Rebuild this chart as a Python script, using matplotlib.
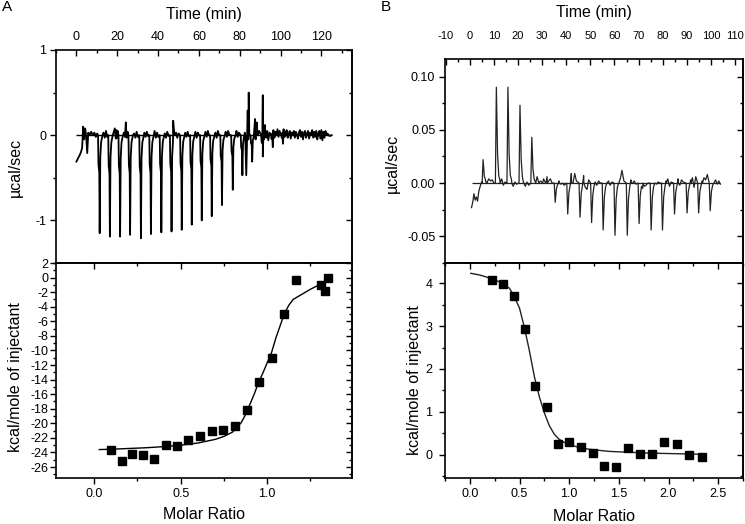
import numpy as np
import matplotlib.pyplot as plt
from matplotlib.ticker import MultipleLocator, FormatStrFormatter

plt.rcParams['font.family'] = ['Liberation Sans', 'DejaVu Sans']
plt.rcParams['axes.unicode_minus'] = False

# ---- panel A, raw heat flow (ucal/sec vs min) ----
inj_t_A = [10.6, 15.6, 20.6, 25.5, 30.8, 35.7, 40.8, 45.8, 50.8, 55.7, 60.6, 65.5,
           70.5, 75.8, 80.5, 85.3, 90.5, 95.4, 100.4]
inj_peak_A = [-1.15, -1.19, -1.19, -1.17, -1.21, -1.16, -1.14, -1.13, -1.11, -1.05,
              -1.00, -0.95, -0.82, -0.64, -0.47, -0.31, -0.25, -0.14, -0.10]
# drift at start, baseline noise and the odd spikes
extra_t_A = [0.0, 0.8, 1.5, 2.2, 2.8, 3.3, 3.8, 4.3, 4.8, 5.3, 5.8, 6.5, 7.2, 8.0, 8.8, 9.5, 10.2,
             13.3, 13.9, 14.5, 15.1, 18.3, 18.8, 19.3, 19.6, 19.9, 20.2, 23.3, 23.8, 24.2,
             24.6, 25.1, 28.3, 28.9, 29.5, 30.1, 33.3, 33.9, 34.5, 35.1, 38.3, 38.9, 39.5,
             40.1, 43.3, 43.9, 44.5, 45.2, 47.4, 48.8, 49.4, 50.0, 53.3, 53.9, 54.5, 55.0,
             58.3, 58.9, 59.5, 60.0, 63.2, 63.8, 64.4, 64.9, 68.1, 68.7, 69.3, 69.9, 73.1,
             73.7, 74.3, 75.0, 78.4, 79.0, 79.6, 82.5, 83.2, 83.6, 83.9, 84.2, 84.4, 84.7,
             87.0, 87.5, 87.8, 88.3, 88.8, 89.5, 91.3, 91.6, 92.3, 93.0, 93.5, 94.0, 94.6,
             96.0, 96.5, 97.0, 97.5, 98.0, 98.5, 99.0, 99.5,
             101.0, 101.5, 102.0, 102.5, 103.0, 103.5, 104.0, 104.5, 105.0, 105.5, 106.0,
             106.5, 107.0, 107.5, 108.0, 108.5, 109.0, 109.5, 110.0, 110.5, 111.0, 111.5,
             112.0, 112.5, 113.0, 113.5, 114.0, 114.5, 115.0, 115.5, 116.0, 116.5, 117.0,
             117.5, 118.0, 118.5, 119.0, 119.5, 120.0, 120.5, 121.0, 121.5, 122.0, 122.5,
             123.0, 124.0, 125.0]
extra_y_A = [-0.31, -0.27, -0.24, -0.20, -0.15, 0.10, -0.05, 0.08, -0.02, -0.21, 0.03, 0.00,
             0.04, 0.00, 0.03, -0.02, 0.02,
             0.03, -0.03, 0.05, -0.02, 0.04, 0.08, -0.04, 0.06, -0.03, 0.05, 0.03, -0.02,
             0.15, -0.03, 0.04, 0.02, -0.03, 0.04, -0.02, 0.03, -0.02, 0.04, -0.01, 0.05,
             -0.03, 0.03, -0.02, 0.02, -0.03, 0.04, -0.01, 0.17, 0.03, -0.03, 0.02,
             0.03, -0.02, 0.04, -0.01, 0.04, -0.03, 0.03, 0.00, 0.04, -0.02, 0.05, 0.00,
             0.03, -0.03, 0.05, 0.00, 0.04, -0.02, 0.05, 0.00, 0.05, -0.02, 0.03, 0.03,
             -0.47, 0.00, 0.29, -0.05, 0.50, 0.00,
             0.02, 0.19, -0.05, 0.15, 0.00, 0.05, 0.47, 0.00, 0.12, -0.03, 0.05, -0.06, 0.03,
             0.02, 0.06, -0.03, 0.04, 0.00, 0.07, -0.02, 0.05,
             0.03, 0.07, -0.02, 0.04, 0.06, -0.03, 0.02, 0.05, -0.04, 0.03, 0.00,
             0.05, -0.03, 0.04, 0.01, -0.04, 0.03, 0.06, -0.02, 0.04, -0.05, 0.03,
             0.05, -0.03, 0.02, 0.05, -0.04, 0.03, 0.00, 0.06, -0.03, 0.04, -0.02,
             0.05, -0.05, 0.02, 0.05, -0.04, 0.06, -0.06, 0.04, -0.03, 0.05, 0.00,
             0.02, -0.01, 0.00]

# ---- panel B, raw heat flow ----
inj_t_B = [5.5, 11.0, 15.8, 20.8, 25.7, 30.6, 35.4, 40.6, 45.7, 50.5, 55.3, 60.2, 65.3,
           70.2, 75.2, 79.9, 84.9, 90.1, 94.9, 99.7]
inj_peak_B = [0.022, 0.090, 0.090, 0.073, 0.043, 0.004, -0.018, -0.029, -0.032, -0.037,
              -0.044, -0.049, -0.049, -0.038, -0.044, -0.044, -0.029, -0.028, -0.028, -0.026]
extra_t_B = [0.7, 1.2, 1.7, 2.2, 2.7, 3.2, 3.7, 4.3, 4.9, 6.5, 7.2, 7.9, 8.6, 9.3, 10.0,
             12.5, 13.2, 13.9, 14.6, 17.3, 18.0, 18.7, 19.4, 22.3, 23.0, 23.7, 24.4,
             27.2, 27.9, 28.6, 29.3, 32.0, 32.7, 33.4, 34.1, 37.0, 37.7, 38.4, 39.1,
             42.1, 42.8, 43.5, 44.2, 47.2, 47.9, 48.6, 49.3, 52.0, 52.7, 53.4, 54.1,
             56.8, 57.5, 58.2, 58.9, 61.7, 62.4, 63.1, 63.9, 66.8, 67.5, 68.2, 68.9,
             71.7, 72.4, 73.1, 73.8, 76.7, 77.4, 78.1, 78.8, 81.4, 82.1, 82.8, 83.5,
             86.4, 87.1, 87.8, 88.5, 91.6, 92.3, 93.0, 93.7, 96.4, 97.1, 97.8, 98.5,
             101.2, 101.9, 102.6, 103.3, 103.9]
extra_y_B = [-0.023, -0.018, -0.010, -0.016, -0.013, -0.017, -0.008, -0.003, 0.001,
             0.003, 0.001, 0.004, 0.002, 0.003, 0.000,
             0.002, 0.004, -0.002, 0.001, 0.003, -0.003, 0.001, -0.001, 0.000, -0.003, 0.001, -0.002,
             0.001, 0.006, 0.000, 0.002, 0.006, 0.002, 0.004, 0.000, 0.002, -0.001, 0.000, -0.002,
             0.009, 0.000, 0.009, 0.002, 0.007, -0.004, -0.006, 0.003, 0.001, -0.002, 0.002, 0.000,
             0.000, 0.002, -0.002, 0.001, 0.000, 0.004, 0.012, 0.002, 0.003, 0.000, 0.002, -0.001,
             -0.005, -0.003, -0.002, 0.000, 0.000, -0.001, 0.001, 0.000, 0.002, 0.004, -0.003, 0.001,
             0.004, -0.002, 0.003, 0.001, 0.003, 0.005, -0.004, 0.006, 0.002, 0.005, 0.003, 0.008,
             0.000, 0.003, -0.001, 0.002, -0.001]

# ---- integrated heats ----
ratio_A = [0.096, 0.160, 0.221, 0.285, 0.346, 0.413, 0.477, 0.542, 0.610, 0.679, 0.746,
           0.815, 0.883, 0.952, 1.025, 1.096, 1.167, 1.312, 1.333, 1.352]
heat_A = [-23.6, -25.1, -24.2, -24.3, -24.9, -23.0, -23.1, -22.3, -21.8, -21.0, -20.9,
          -20.3, -18.2, -14.3, -11.1, -5.0, -0.3, -0.96, -1.8, -0.1]
fit_ratio_A = [0.03, 0.1, 0.2, 0.3, 0.4, 0.5, 0.6, 0.7, 0.75, 0.8, 0.85, 0.875, 0.9, 0.925,
               0.95, 0.975, 1.0, 1.025, 1.05, 1.075, 1.1, 1.125, 1.15, 1.2, 1.25, 1.3, 1.33]
fit_heat_A = [-23.6, -23.55, -23.45, -23.35, -23.2, -23.0, -22.7, -22.2, -21.8, -21.2, -19.9,
              -18.8, -17.4, -16.0, -14.4, -13.1, -11.7, -10.3, -8.3, -6.6, -4.9, -3.8, -3.0,
              -2.3, -1.6, -1.0, -0.75]

ratio_B = [0.222, 0.330, 0.441, 0.552, 0.660, 0.774, 0.885, 1.003, 1.120, 1.238, 1.349,
           1.474, 1.590, 1.709, 1.837, 1.958, 2.086, 2.207, 2.335]
heat_B = [4.08, 3.98, 3.69, 2.94, 1.60, 1.11, 0.25, 0.30, 0.19, 0.05, -0.26, -0.28, 0.15,
          0.01, 0.02, 0.29, 0.26, 0.00, -0.06]
fit_ratio_B = [0.01, 0.1, 0.2, 0.3, 0.4, 0.45, 0.5, 0.55, 0.6, 0.65, 0.7, 0.75, 0.8, 0.85,
               0.9, 0.95, 1.0, 1.1, 1.2, 1.4, 1.6, 1.8, 2.0, 2.2, 2.35]
fit_heat_B = [4.23, 4.19, 4.12, 4.03, 3.88, 3.67, 3.42, 2.96, 2.42, 1.82, 1.35, 0.98, 0.68,
              0.48, 0.36, 0.29, 0.24, 0.17, 0.13, 0.08, 0.06, 0.04, 0.03, 0.02, 0.01]

# shape of one injection peak (time offset, fraction of peak)
spike_dt_A = [0, 0.2, 0.6, 0.8, 1.1, 1.5, 2.2]
spike_frac_A = [0, 0.3, 0.38, 1, 0.22, 0.07, 0]
spike_dt_B = [-0.4, 0, 0.5, 1.0, 1.6]
spike_frac_B = [0, 1, 0.3, 0.08, 0]


def build_trace(inj_t, inj_peak, dt, frac, extra_t, extra_y):
    t, y = list(extra_t), list(extra_y)
    for t0, p in zip(inj_t, inj_peak):
        t += [t0 + d for d in dt]
        y += [p * f for f in frac]
    order = np.argsort(t, kind='stable')
    return np.array(t)[order], np.array(y)[order]


tA, yA = build_trace(inj_t_A, inj_peak_A, spike_dt_A, spike_frac_A, extra_t_A, extra_y_A)
tB, yB = build_trace(inj_t_B, inj_peak_B, spike_dt_B, spike_frac_B, extra_t_B, extra_y_B)

W, H = 745, 524
fig = plt.figure(figsize=(W / 100, H / 100), dpi=100)
axA1 = fig.add_axes([56 / W, 1 - 263 / H, 296 / W, 213 / H])
axA2 = fig.add_axes([56 / W, 1 - 478 / H, 296 / W, 215 / H])
axB1 = fig.add_axes([445 / W, 1 - 263 / H, 298 / W, 203.5 / H])
axB2 = fig.add_axes([445 / W, 1 - 478 / H, 298 / W, 215 / H])

LW = 1.2
FS = 11.5
TS = 9


def spines(ax):
    for s in ax.spines.values():
        s.set_linewidth(LW)


def top_panel(ax, xmaj, xmin, ymaj, ymin, yfmt, xpad, xsize):
    spines(ax)
    ax.xaxis.tick_top()
    ax.xaxis.set_label_position('top')
    ax.xaxis.set_major_locator(MultipleLocator(xmaj))
    ax.xaxis.set_minor_locator(MultipleLocator(xmin))
    ax.xaxis.set_major_formatter(FormatStrFormatter('%d'))
    ax.yaxis.set_major_locator(MultipleLocator(ymaj))
    ax.yaxis.set_minor_locator(MultipleLocator(ymin))
    ax.yaxis.set_major_formatter(FormatStrFormatter(yfmt))
    ax.tick_params(axis='x', which='both', direction='in', top=True, bottom=False,
                   labelsize=xsize, pad=xpad, width=1)
    ax.tick_params(axis='y', which='both', direction='out', left=True, right=False,
                   labelsize=TS, pad=3, width=1)
    ax.tick_params(which='major', length=4)
    ax.tick_params(which='minor', length=2.5)
    sec = ax.secondary_yaxis('right')
    sec.yaxis.set_major_locator(MultipleLocator(ymaj))
    sec.yaxis.set_minor_locator(MultipleLocator(ymin))
    sec.tick_params(which='both', direction='in', labelright=False, width=1)
    sec.tick_params(which='major', length=4)
    sec.tick_params(which='minor', length=2.5)
    sec.spines['right'].set_linewidth(LW)


def bottom_panel(ax, xmaj, xmin, ymaj, ymin, ypad):
    spines(ax)
    ax.xaxis.set_major_locator(MultipleLocator(xmaj))
    ax.xaxis.set_minor_locator(MultipleLocator(xmin))
    ax.xaxis.set_major_formatter(FormatStrFormatter('%.1f'))
    ax.yaxis.set_major_locator(MultipleLocator(ymaj))
    ax.yaxis.set_minor_locator(MultipleLocator(ymin))
    ax.yaxis.set_major_formatter(FormatStrFormatter('%d'))
    ax.tick_params(axis='x', which='both', direction='out', top=False, bottom=True,
                   labelsize=TS, pad=3, width=1)
    ax.tick_params(axis='y', which='both', direction='out', left=True, right=False,
                   labelsize=TS, pad=ypad, width=1)
    ax.tick_params(which='major', length=4)
    ax.tick_params(which='minor', length=2.5)
    for sec, axis in ((ax.secondary_xaxis('top'), 'x'), (ax.secondary_yaxis('right'), 'y')):
        a = sec.xaxis if axis == 'x' else sec.yaxis
        a.set_major_locator(MultipleLocator(xmaj if axis == 'x' else ymaj))
        a.set_minor_locator(MultipleLocator(xmin if axis == 'x' else ymin))
        sec.tick_params(which='both', direction='in', labeltop=False, labelright=False, width=1)
        sec.tick_params(which='major', length=4)
        sec.tick_params(which='minor', length=2.5)
        for s in sec.spines.values():
            s.set_linewidth(LW)


# panel A top
axA1.hlines(0, tA[0], tA[-1], color='black', lw=1.0)
axA1.plot(tA, yA, color='black', lw=1.3)
axA1.set_xlim(-10, 135)
axA1.set_ylim(-1.5, 1)
top_panel(axA1, 20, 10, 1, 0.5, '%d', 5, TS)
axA1.set_xlabel('Time (min)', fontsize=FS)
axA1.xaxis.set_label_coords(0.5, 1.169)
axA1.xaxis.label.set_va('center')
axA1.set_ylabel('µcal/sec', fontsize=FS)
axA1.yaxis.set_label_coords(-0.1385, 0.45)
axA1.yaxis.label.set_va('center')

# panel A bottom
axA2.plot(fit_ratio_A, fit_heat_A, color='black', lw=1.0)
axA2.plot(ratio_A, heat_A, 's', color='black', ms=5.5)
axA2.set_xlim(-0.22, 1.49)
axA2.set_ylim(-27.5, 2)
bottom_panel(axA2, 0.5, 0.25, 2, 1, 1.5)
axA2.set_xlabel('Molar Ratio', fontsize=FS)
axA2.xaxis.set_label_coords(0.5, -0.172)
axA2.xaxis.label.set_va('center')
axA2.set_ylabel('kcal/mole of injectant', fontsize=FS)
axA2.yaxis.set_label_coords(-0.1385, 0.471)
axA2.yaxis.label.set_va('center')

# panel B top
axB1.hlines(0, tB[0], tB[-1], color='#222222', lw=0.9)
axB1.plot(tB, yB, color='#222222', lw=0.9)
axB1.set_xlim(-10.3, 113.3)
axB1.set_ylim(-0.075, 0.116)
top_panel(axB1, 10, 5, 0.05, 0.025, '%.2f', 13, 8)
axB1.set_xlabel('Time (min)', fontsize=FS)
axB1.xaxis.set_label_coords(0.5, 1.229)
axB1.xaxis.label.set_va('center')
axB1.set_ylabel('µcal/sec', fontsize=FS)
axB1.yaxis.set_label_coords(-0.178, 0.491)
axB1.yaxis.label.set_va('center')

# panel B bottom
axB2.plot(fit_ratio_B, fit_heat_B, color='#222222', lw=1.0)
axB2.plot(ratio_B, heat_B, 's', color='black', ms=5.5)
axB2.set_xlim(-0.25, 2.75)
axB2.set_ylim(-0.54, 4.47)
bottom_panel(axB2, 0.5, 0.25, 1, 0.5, 5)
axB2.set_xlabel('Molar Ratio', fontsize=FS)
axB2.xaxis.set_label_coords(0.5, -0.18)
axB2.xaxis.label.set_va('center')
axB2.set_ylabel('kcal/mole of injectant', fontsize=FS)
axB2.yaxis.set_label_coords(-0.104, 0.456)
axB2.yaxis.label.set_va('center')

fig.text(7 / W, 1 - 7 / H, 'A', ha='center', va='center', fontsize=11)
fig.text(386 / W, 1 - 7 / H, 'B', ha='center', va='center', fontsize=11)

fig.savefig('out.png', dpi=100)
